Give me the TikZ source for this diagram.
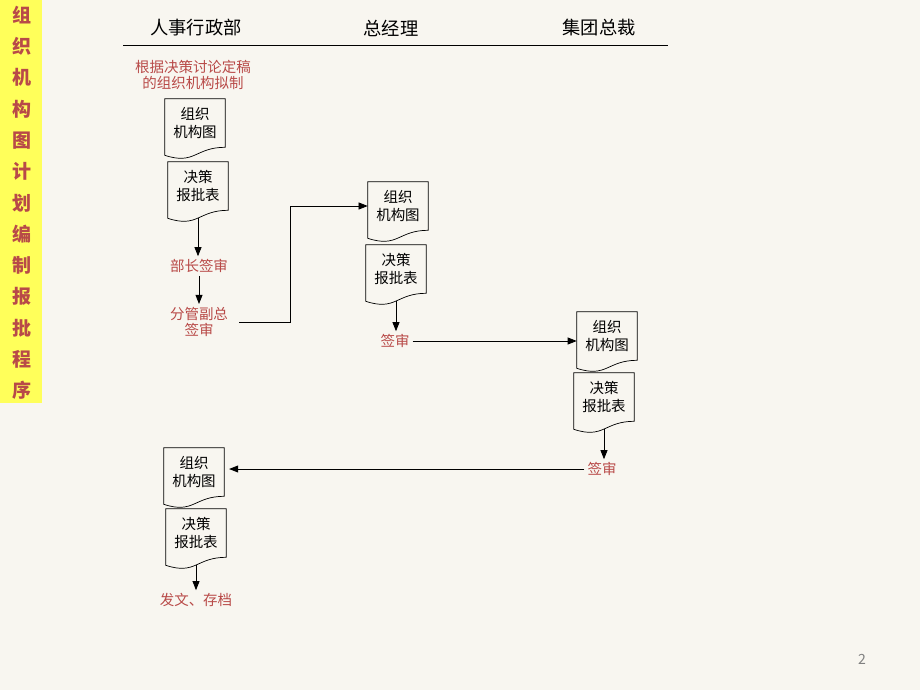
\documentclass[tikz,border=0pt]{standalone}
\usepackage{fontspec}
\setmainfont{Noto Sans CJK SC}
\usepackage{tikz}
\usetikzlibrary{calc,arrows.meta}

\definecolor{hongzi}{RGB}{184,74,72}
\definecolor{beijing}{RGB}{248,246,240}
\definecolor{huangtiao}{RGB}{255,255,90}

\tikzset{
  wendang/.style={minimum width=1.5cm, minimum height=1.2cm, inner sep=0pt, align=center,
                  font=\fontsize{10.3}{12.8}\selectfont},
  kuang/.style={draw=black, line width=0.5pt},
  biaozhu/.style={text=hongzi, align=center, inner sep=2pt, font=\fontsize{10.3}{11.8}\selectfont},
  jiantou/.style={-{Triangle[length=6.5pt,width=5pt]}, line width=0.6pt}
}

% Dokument mit welligem Boden: Name, Ort, Text
\newcommand\wendangkuang[3]{%
  \node[wendang] (#1) at (#2) {#3};
  \draw[kuang] (#1.north west) -- (#1.north east) -- (#1.south east)
    .. controls (#1.south) and ($(#1.south)+(0,18)$) .. ($(#1.south west)+(0,8)$) -- cycle;
  \coordinate (#1-d) at ($(#1.south)+(0,8)$);
}

\begin{document}
\begin{tikzpicture}[x=0.025cm, y=-0.025cm]
        % Hintergrund
        \fill[beijing] (0,0) rectangle (920,690);
        \useasboundingbox (0,0) rectangle (920,690);

        % Titel links
        \fill[huangtiao] (0,0) rectangle (42,403);
        \foreach \zi [count=\i from 0] in {组,织,机,构,图,计,划,编,制,报,批,程,序} {
            \node[text=hongzi, font=\fontsize{13.5}{15}\bfseries] at (22, 15+\i*31.3) {\zi};
        }

        % Spalten
        \node[font=\fontsize{13}{15}\selectfont] (renshi) at (196,28) {人事行政部};
        \node[font=\fontsize{13}{15}\selectfont] (zongjingli) at (391,28) {总经理};
        \node[font=\fontsize{13}{15}\selectfont] (jituan) at (599,28) {集团总裁};
        \draw[line width=0.7pt] (123,45) -- (668,45);

        % Spalte 1
        \node[biaozhu] (niding) at (193,75) {根据决策讨论定稿\\的组织机构拟制};
        \wendangkuang{zz1}{195,123}{组织\\机构图}
        \wendangkuang{jc1}{198,186}{决策\\报批表}
        \node[biaozhu] (buzhang) at (199,266) {部长签审};
        \node[biaozhu] (fuzong) at (199,322) {分管副总\\签审};

        % Spalte 2
        \wendangkuang{zz2}{398,206}{组织\\机构图}
        \wendangkuang{jc2}{396,269}{决策\\报批表}
        \node[biaozhu] (qian2) at (395,341) {签审};

        % Spalte 3
        \wendangkuang{zz3}{607,336}{组织\\机构图}
        \wendangkuang{jc3}{604,397}{决策\\报批表}
        \node[biaozhu] (qian3) at (602,469) {签审};

        % zurueck
        \wendangkuang{zz4}{194,472}{组织\\机构图}
        \wendangkuang{jc4}{196,533}{决策\\报批表}
        \node[biaozhu] (cundang) at (196,600) {发文、存档};

        % Pfeile
        \draw[jiantou] (jc1-d) -- (jc1-d |- buzhang.north);
        \draw[jiantou] (buzhang) -- (fuzong);
        \draw[jiantou] ([xshift=0.2cm]fuzong.east) -- ++(51,0) |- (zz2.west);
        \draw[jiantou] (jc2-d) -- (jc2-d |- qian2.north);
        \draw[jiantou] (qian2.east) -- (qian2.east -| zz3.west);
        \draw[jiantou] (jc3-d) -- (jc3-d |- qian3.north);
        \draw[jiantou] (qian3.west) -- ([xshift=0.12cm]qian3.west -| zz4.east);
        \draw[jiantou] (jc4-d) -- (jc4-d |- cundang.north);

        % Seitenzahl
        \node[text=gray, font=\fontsize{10}{12}\selectfont] (seite) at (862,659) {2};
\end{tikzpicture}
\end{document}
